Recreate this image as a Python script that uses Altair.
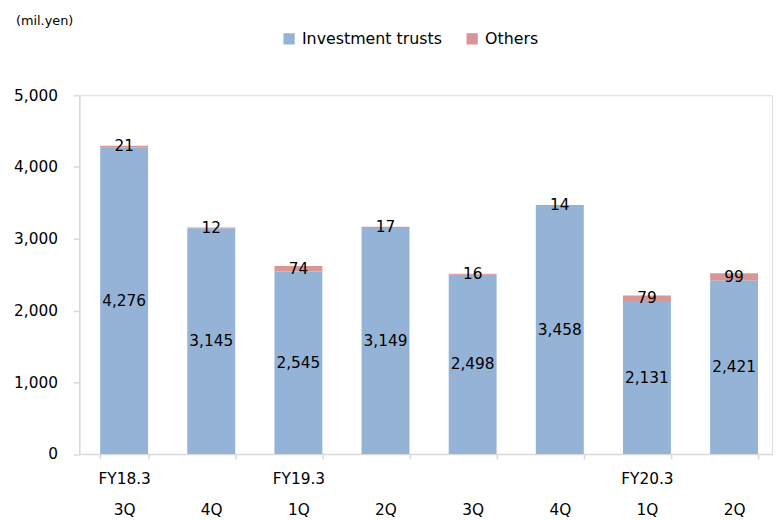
import altair as alt
import pandas as pd

periods = ["FY18.3 3Q", "FY18.3 4Q", "FY19.3 1Q", "FY19.3 2Q",
           "FY19.3 3Q", "FY19.3 4Q", "FY20.3 1Q", "FY20.3 2Q"]
fy_shown = ["FY18.3 3Q", "FY19.3 1Q", "FY20.3 1Q"]
series = ["Investment trusts", "Others"]
investment_trusts = [4276, 3145, 2545, 3149, 2498, 3458, 2131, 2421]
others = [21, 12, 74, 17, 16, 14, 79, 99]
colors = ["#95B3D7", "#D99694"]

rows = []
for p, a, b in zip(periods, investment_trusts, others):
    rows.append({"period": p, "series": series[0], "value": a})
    rows.append({"period": p, "series": series[1], "value": b})
df = pd.DataFrame(rows)

FONT = "DejaVu Sans"
shown = "[" + ",".join("'" + s + "'" for s in fy_shown) + "]"
label_expr = ("[indexof(" + shown + ", datum.value) >= 0 ? split(datum.value, ' ')[0] : ' ', "
              "split(datum.value, ' ')[1]]")

xscale = alt.Scale(range=[0, 707], paddingInner=0.45, paddingOuter=0.24)

x = alt.X("period:N", sort=periods, title=None, scale=xscale,
          axis=alt.Axis(labelExpr=label_expr, labelAngle=0, labelFont=FONT,
                        labelFontSize=15.5, labelColor="#000000",
                        labelLineHeight=31, labelBaseline="top",
                        labelPadding=13, tickBand="extent", tickSize=5,
                        tickColor="#d9d9d9", domainColor="#d9d9d9",
                        domainWidth=1.5, tickWidth=1.5, grid=False))

base = alt.Chart(df).transform_stack(
    stack="value", groupby=["period"], as_=["y0", "y1"],
    sort=[alt.SortField("series", order="ascending")]
).transform_calculate(mid="(datum.y0 + datum.y1) / 2")

bars = base.mark_bar().encode(
    x=x,
    y=alt.Y("y0:Q", title=None,
            scale=alt.Scale(domain=[0, 5000], nice=False),
            axis=alt.Axis(values=[0, 1000, 2000, 3000, 4000, 5000], format=",d",
                          labelFont=FONT, labelFontSize=15.5, labelColor="#000000",
                          labelPadding=16, tickSize=6, tickColor="#d9d9d9",
                          domainColor="#d9d9d9", domainWidth=1.5, tickWidth=1.5,
                          grid=False)),
    y2="y1:Q",
    color=alt.Color("series:N", scale=alt.Scale(domain=series, range=colors),
                    legend=alt.Legend(title=None, orient="none", direction="horizontal",
                                      legendX=204, legendY=-65, symbolType="square",
                                      symbolSize=130, symbolStrokeWidth=0,
                                      labelFont=FONT, labelFontSize=16,
                                      labelColor="#000000", labelOffset=5,
                                      columnPadding=22)),
)

labels = base.mark_text(font=FONT, fontSize=15.5, color="#000000",
                        baseline="middle", align="center").encode(
    x=alt.X("period:N", sort=periods, scale=xscale),
    y=alt.Y("mid:Q"),
    text=alt.Text("value:Q", format=",d"),
)

unit = alt.Chart(pd.DataFrame({"t": ["(mil.yen)"]})).mark_text(
    font=FONT, fontSize=13, color="#000000", align="left", baseline="middle"
).encode(x=alt.value(-64), y=alt.value(-75), text="t:N")

chart = alt.layer(bars, labels, unit).properties(
    width=700, height=362.5,
    padding={"left": 72, "top": 85.5, "right": 1, "bottom": 64},
    autosize=alt.AutoSizeParams(type="none"),
).configure_view(stroke=None).configure(background="#ffffff")

chart.save("out.html", embed_options={"renderer": "svg", "actions": False})
